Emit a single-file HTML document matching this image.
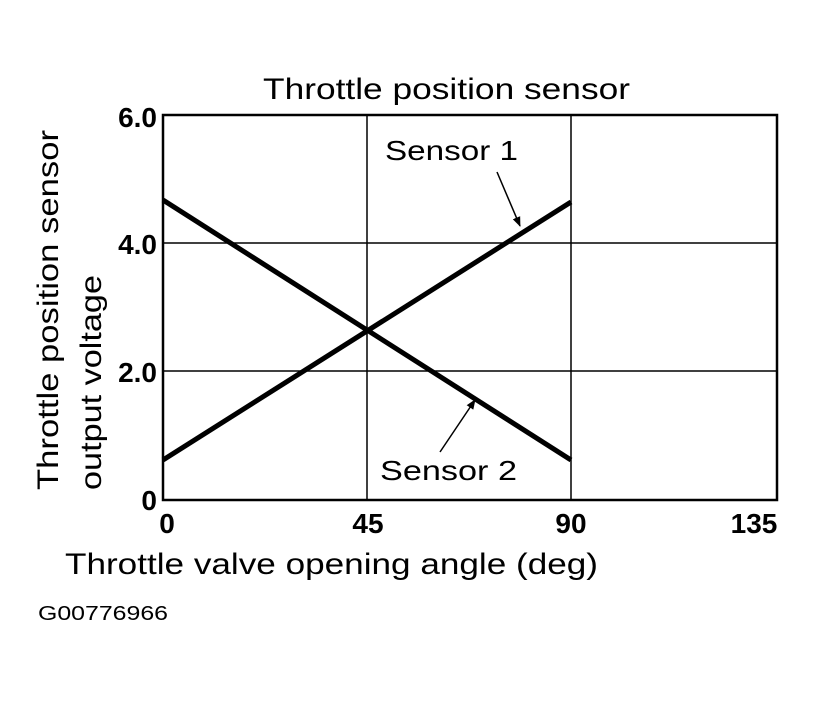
<!DOCTYPE html>
<html><head><style>body{margin:0;background:#fff}svg text{font-family:"Liberation Sans",sans-serif;fill:#000}</style></head><body>
<svg width="818" height="699" xmlns="http://www.w3.org/2000/svg">
<defs><marker id="a" markerWidth="10" markerHeight="10" refX="9" refY="5" orient="auto" markerUnits="userSpaceOnUse"><path d="M0,1 L10,5 L0,9 z"/></marker></defs>
<text x="263" y="99" font-size="30" textLength="367" lengthAdjust="spacingAndGlyphs">Throttle position sensor</text>
<rect x="163" y="115" width="614" height="385" fill="none" stroke="#000" stroke-width="2.5"/>
<line x1="367" y1="115" x2="367" y2="500" stroke="#000" stroke-width="1.5"/>
<line x1="571" y1="115" x2="571" y2="500" stroke="#000" stroke-width="1.5"/>
<line x1="163" y1="243" x2="777" y2="243" stroke="#000" stroke-width="1.5"/>
<line x1="163" y1="371" x2="777" y2="371" stroke="#000" stroke-width="1.5"/>
<line x1="163" y1="200" x2="571" y2="460" stroke="#000" stroke-width="5"/>
<line x1="163" y1="460" x2="571" y2="202" stroke="#000" stroke-width="5"/>
<text x="385" y="160" font-size="28" textLength="133" lengthAdjust="spacingAndGlyphs">Sensor 1</text>
<line x1="497" y1="172" x2="520" y2="226" stroke="#000" stroke-width="1.5" marker-end="url(#a)"/>
<text x="380" y="480" font-size="28" textLength="137" lengthAdjust="spacingAndGlyphs">Sensor 2</text>
<line x1="440" y1="452" x2="475" y2="400" stroke="#000" stroke-width="1.5" marker-end="url(#a)"/>
<g font-size="28" font-weight="bold" text-anchor="end">
<text x="157" y="127">6.0</text><text x="157" y="254">4.0</text><text x="157" y="382">2.0</text><text x="157" y="510">0</text></g>
<g font-size="28" font-weight="bold" text-anchor="middle">
<text x="167" y="533">0</text><text x="368" y="533">45</text><text x="571" y="533">90</text><text x="754" y="533">135</text></g>
<text x="65" y="574" font-size="30" textLength="533" lengthAdjust="spacingAndGlyphs">Throttle valve opening angle (deg)</text>
<text x="38" y="620" font-size="20" textLength="130" lengthAdjust="spacingAndGlyphs">G00776966</text>
<text transform="translate(58,490) rotate(-90)" font-size="30" textLength="360" lengthAdjust="spacingAndGlyphs">Throttle position sensor</text>
<text transform="translate(101,490) rotate(-90)" font-size="30" textLength="215" lengthAdjust="spacingAndGlyphs">output voltage</text>
</svg></body></html>
